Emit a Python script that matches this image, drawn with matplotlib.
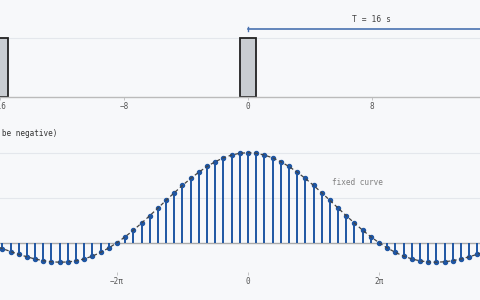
import numpy as np
import matplotlib
matplotlib.use("Agg")
import matplotlib.pyplot as plt

# ---------------- data ----------------
pulse_centers = [-16, 0, 16]
pulse_heights = [1.0, 1.0, 1.0]
pulse_width = 1.0
top_ticks = [-16, -8, 0, 8, 16]
top_ticklabels = ["\u221216", "\u22128", "0", "8", "16"]
period_label = "T = 16 s"
period_T = 16

# harmonic index k (omega = k * pi/8) and coefficient values
k_pos = list(range(0, 33))
coef_pos = [1.000, 0.994, 0.974, 0.943, 0.900, 0.847, 0.784, 0.714, 0.637,
            0.555, 0.471, 0.385, 0.300, 0.218, 0.139, 0.066, 0.000,
            -0.058, -0.108, -0.149, -0.180, -0.202, -0.214, -0.217, -0.212,
            -0.200, -0.181, -0.157, -0.129, -0.098, -0.065, -0.032, 0.000]
k_all = [-k for k in k_pos[:0:-1]] + k_pos
coef_all = coef_pos[:0:-1] + coef_pos
omega0 = np.pi / 8
omega = [k * omega0 for k in k_all]

bottom_ticks = [-2 * np.pi, 0, 2 * np.pi]
bottom_ticklabels = ["\u22122\u03c0", "0", "2\u03c0"]

# ---------------- style ----------------
BG = "#f7f8fa"
BLUE = "#1f56a3"
GRID = "#e4e7ec"
TXT = "#555555"
MONO = "DejaVu Sans Mono"

fig = plt.figure(figsize=(4.8, 3.0), dpi=100, facecolor=BG)
W, H = 480.0, 300.0

# top axes: x pixel = 248 + 15.5*x ; y0 at 96.7px, y1 at 38.3px
x0p, sx = 248.0, 15.5
txl = (-20, 20)
ty0p, sy = 96.7, 58.4
tyl = (0, 1.4)
ax1 = fig.add_axes([(x0p + sx * txl[0]) / W, (H - ty0p) / H,
                    sx * (txl[1] - txl[0]) / W, sy * (tyl[1] - tyl[0]) / H])
ax1.set_facecolor(BG)
ax1.set_xlim(*txl)
ax1.set_ylim(*tyl)
ax1.axhline(1.0, color=GRID, lw=0.8, zorder=0)
ax1.bar(pulse_centers, pulse_heights, width=pulse_width, color="#c9cdd2",
        edgecolor="#222222", linewidth=1.3, zorder=2)
for s in ["top", "left", "right"]:
    ax1.spines[s].set_visible(False)
ax1.spines["bottom"].set_color("#bbbbbb")
ax1.spines["bottom"].set_linewidth(1.0)
ax1.set_yticks([])
ax1.set_xticks(top_ticks)
ax1.set_xticklabels(top_ticklabels, fontfamily=MONO, fontsize=5.5, color=TXT)
ax1.tick_params(axis="x", length=2, width=0.6, color="#bbbbbb", pad=1.5)
# period marker
ax1.plot([0, period_T], [1.16, 1.16], color="#4a72b0", lw=1.2, zorder=3)
ax1.plot([0, 0], [1.12, 1.20], color="#4a72b0", lw=1.0, zorder=3)
ax1.text(period_T / 2, 1.24, period_label, ha="center", va="bottom",
         fontfamily=MONO, fontsize=5.8, color="#444444")

# bottom axes: x pixel = 248 + 20.85*w ; y0 at 242.7px, 1 at 152.7px
bx0p, bsx = 248.0, 20.85
bxl = (-14, 14)
by0p, bsy = 242.7, 90.0
byl = (-0.33, 1.1)
ax2 = fig.add_axes([(bx0p + bsx * bxl[0]) / W, (H - (by0p - bsy * byl[0])) / H,
                    bsx * (bxl[1] - bxl[0]) / W, bsy * (byl[1] - byl[0]) / H])
ax2.set_facecolor(BG)
ax2.set_xlim(*bxl)
ax2.set_ylim(*byl)
for g in [0.5, 1.0]:
    ax2.axhline(g, color=GRID, lw=0.8, zorder=0)
ax2.axhline(0, color="#aaaaaa", lw=1.0, zorder=1)
ax2.vlines(omega, 0, coef_all, color=BLUE, lw=1.4, zorder=2)
ax2.plot(omega, coef_all, "o", color=BLUE, markersize=2.9, zorder=3)
ax2.plot(omega, coef_all, color="#444444", lw=0.9, dashes=(3, 2.2), zorder=4)
for s in ["top", "left", "right", "bottom"]:
    ax2.spines[s].set_visible(False)
ax2.set_yticks([])
ax2.set_xticks(bottom_ticks)
ax2.set_xticklabels(bottom_ticklabels, fontfamily=MONO, fontsize=5.5, color=TXT)
ax2.tick_params(axis="x", length=2, width=0.6, color="#bbbbbb", pad=1.0)
ax2.text(4.05, 0.67, "fixed curve", ha="left", va="center",
         fontfamily=MONO, fontsize=5.6, color="#808080")

fig.text(57 / W, 1 - 133 / H, "T\u00b7c_k (can be negative)", ha="right",
         va="center", fontfamily=MONO, fontsize=5.5, color="#333333")

fig.savefig("out.png", dpi=100, facecolor=BG)
